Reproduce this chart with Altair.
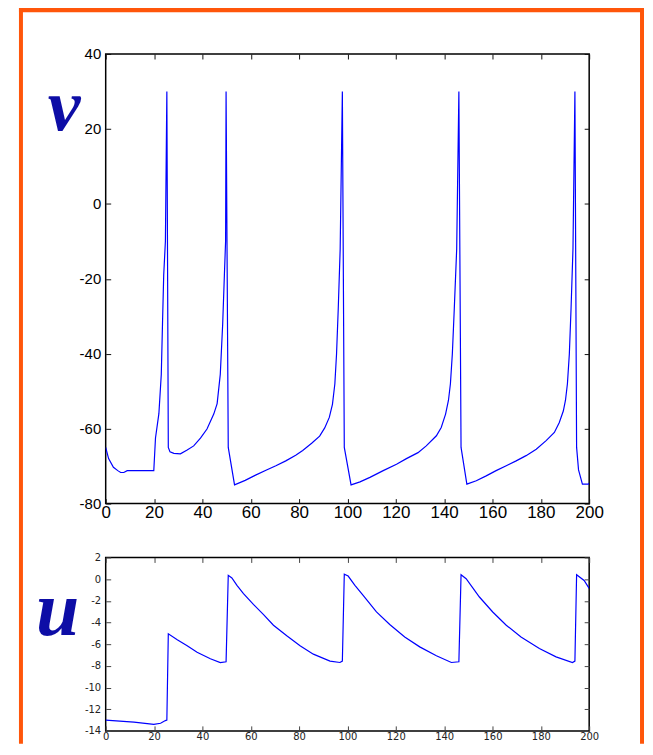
import altair as alt
import pandas as pd

# ---- data ----
t_v = [0, 1.2, 3.2, 5.0, 6.2, 7.5, 8.9, 19.9, 20.6, 22.0, 23.0, 23.5, 24.0, 24.7, 25.3,
       25.9, 26.6, 28.2, 30.9, 33.7, 36.4, 39.2, 41.9, 44.7, 46.1, 47.4, 48.4, 49.1, 49.6, 49.8,
       50.7, 53.3, 57.7, 62.0, 66.3, 70.4, 74.5, 78.6, 81.5, 85.2, 88.5, 90.6, 92.5, 93.8, 94.8,
       95.5, 96.2, 97.0, 97.9,
       98.7, 101.5, 105.2, 109.3, 114.8, 120.3, 124.4, 129.2, 132.6, 136.8, 138.8, 140.6, 141.8,
       142.6, 143.4, 144.2, 145.2, 146.1,
       147.0, 149.4, 153.3, 157.4, 161.5, 165.7, 169.8, 173.9, 178.1, 182.2, 185.6, 187.6, 189.3,
       190.2, 191.0, 191.8, 192.5, 193.3, 194.1,
       194.8, 195.6, 197.2, 199.7, 200]
v_vals = [-65, -68, -70.3, -71.2, -71.7, -71.7, -71.2, -71.2, -62.5, -56, -45.5, -32, -19, -10, 30,
          -65, -66.2, -66.6, -66.7, -65.7, -64.6, -62.5, -60.1, -56.1, -53.3, -45.5, -32, -19, -10, 30,
          -65, -75, -73.8, -72.4, -71.1, -69.9, -68.6, -67.1, -65.8, -63.9, -62, -59.8, -57, -53.5, -48,
          -40, -28, -12, 30,
          -65, -75, -74.2, -73, -71.2, -69.5, -68, -66.4, -64.6, -61.9, -59.7, -56.1, -52.4,
          -48, -40, -28, -12, 30,
          -65, -74.8, -73.9, -72.6, -71.2, -69.9, -68.6, -67.2, -65.5, -63.2, -61, -58.4, -55.3,
          -52.4, -48, -40, -28, -12, 30,
          -65, -71, -74.8, -74.8, -74.5]

t_u = [0, 11.7, 19.9, 22.7, 24.7, 25.3, 25.9, 29.6, 33.7, 37.8, 43.3, 47.4, 49.8,
       50.7, 52.2, 54.3, 57.0, 61.2, 65.3, 69.4, 74.9, 80.4, 85.9, 92.8, 96.9, 97.9,
       98.7, 100.3, 103.1, 106.5, 112.0, 117.5, 123.7, 129.9, 136.8, 143.0, 146.1,
       147.0, 149.1, 154.6, 160.1, 165.7, 171.8, 179.4, 186.3, 193.1, 194.1,
       194.8, 197.9, 200]
u_vals = [-13.0, -13.2, -13.4, -13.3, -13.05, -13.0, -5.05, -5.6, -6.15, -6.75, -7.35, -7.7, -7.62,
          0.35, 0.1, -0.57, -1.34, -2.35, -3.27, -4.25, -5.23, -6.15, -6.92, -7.56, -7.69, -7.56,
          0.45, 0.28, -0.57, -1.49, -3.03, -4.19, -5.33, -6.25, -7.07, -7.69, -7.62,
          0.4, 0.04, -1.65, -3.03, -4.25, -5.33, -6.4, -7.17, -7.69, -7.56,
          0.4, -0.12, -0.85]

t_ticks = [0, 20, 40, 60, 80, 100, 120, 140, 160, 180, 200]
v_ticks = [-80, -60, -40, -20, 0, 20, 40]
u_ticks = [2, 0, -2, -4, -6, -8, -10, -12, -14]

# ---- styling ----
LINE = "#0000ff"
LETTER = "#0d0da6"
ORANGE = "#ff560a"
W = 485
H_TOP = 451
H_BOT = 174
TOPFONT = "Liberation Sans Narrow, Liberation Sans"
BOTFONT = "DejaVu Sans"
HYPHEN = "replace(datum.label, '\u2212', '-')"

df_v = pd.DataFrame({"t": t_v, "v": v_vals})
df_u = pd.DataFrame({"t": t_u, "u": u_vals})
one = pd.DataFrame({"k": [0]})

xs = alt.Scale(domain=[0, 200], nice=False, zero=False)
ys_top = alt.Scale(domain=[-80, 40], nice=False, zero=False)
ys_bot = alt.Scale(domain=[-14, 2], nice=False, zero=False)


def tick_axis(orient, offset, values, color):
    return alt.Axis(orient=orient, offset=offset, values=values, labels=False, domain=False,
                    grid=False, ticks=True, tickSize=5, tickColor=color, tickWidth=1, title=None)


def bar(x1, x2, y1, y2):
    return alt.Chart(one).mark_rect(color=ORANGE).encode(
        x=alt.value(x1), x2=alt.value(x2), y=alt.value(y1), y2=alt.value(y2))


def panel(df, field, yscale, yticks, h, font, xfs, yfs, xpad, ypad, letter, lfs, lx, ly,
          lab_color, tcolor, frame=False):
    base = alt.Chart(df)
    main = base.mark_line(color=LINE, strokeWidth=1.2, clip=True).encode(
        x=alt.X("t:Q", scale=xs, axis=alt.Axis(orient="bottom", values=t_ticks, ticks=False,
                                               domain=False, grid=False, labelFont=font,
                                               labelFontSize=xfs, labelPadding=xpad,
                                               labelColor=lab_color, title=None,
                                               labelFlush=False, labelExpr=HYPHEN)),
        y=alt.Y(f"{field}:Q", scale=yscale, axis=alt.Axis(orient="left", values=yticks, ticks=False,
                                                        domain=False, grid=False, labelFont=font,
                                                        labelFontSize=yfs, labelPadding=ypad,
                                                        labelColor=lab_color, title=None,
                                                        labelFlush=False, labelExpr=HYPHEN)),
    )
    t1 = base.mark_point(opacity=0).encode(
        x=alt.X("t:Q", scale=xs, axis=tick_axis("top", -h, t_ticks, tcolor)),
        y=alt.Y(f"{field}:Q", scale=yscale, axis=tick_axis("right", -W, yticks, tcolor)),
    )
    t2 = base.mark_point(opacity=0).encode(
        x=alt.X("t:Q", scale=xs, axis=tick_axis("bottom", -h, t_ticks, tcolor)),
        y=alt.Y(f"{field}:Q", scale=yscale, axis=tick_axis("left", -W, yticks, tcolor)),
    )
    txt = alt.Chart(one).mark_text(text=letter, font="Liberation Serif", fontStyle="italic",
                                   fontWeight="bold", fontSize=lfs, color=LETTER, align="left",
                                   baseline="alphabetic").encode(x=alt.value(lx), y=alt.value(ly))
    layers = [main, t1, t2, txt]
    if frame:
        layers = [bar(-87, 540, -47, -42),     # top
                  bar(-87, -83, -47, 692),     # left
                  bar(536, 540, -47, 692)] + layers  # right
    return alt.layer(*layers).resolve_axis(x="independent", y="independent").properties(
        width=W, height=h)


top = panel(df_v, "v", ys_top, v_ticks, H_TOP, TOPFONT, 17, 15, 1, 5, "v", 74, -58, 76,
            "#000000", "#111111", frame=True)
bot = panel(df_u, "u", ys_bot, u_ticks, H_BOT, BOTFONT, 10, 10, 1, 5, "u", 78, -70, 78,
            "#222222", "#444444")

chart = alt.vconcat(top, bot, spacing=54, bounds="flush").properties(
    padding={"left": 10, "top": -3, "right": 0, "bottom": 0}
).configure(background="#ffffff").configure_view(stroke="#000000", strokeWidth=1.5)

chart.save("out.html", embed_options={"renderer": "svg", "actions": False})
